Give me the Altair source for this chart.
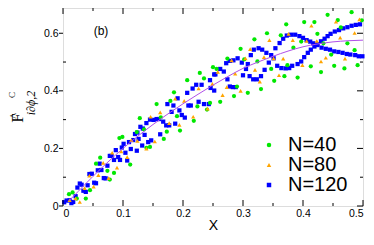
import altair as alt
import pandas as pd

# ---- data ----
series_names = ["N=40", "N=80", "N=120"]

green_pts = [(0.010,0.041),(0.016,0.047),(0.023,0.026),(0.038,0.026),(0.045,0.055),(0.055,0.147),
             (0.062,0.168),(0.074,0.122),(0.078,0.092),(0.085,0.115),(0.094,0.236),(0.099,0.240),
             (0.112,0.144),(0.123,0.257),(0.128,0.305),(0.135,0.266),(0.139,0.202),(0.145,0.205),
             (0.156,0.354),(0.163,0.308),(0.168,0.233),(0.173,0.258),(0.179,0.365),(0.185,0.395),
             (0.190,0.312),(0.195,0.262),(0.207,0.437),(0.218,0.296),(0.224,0.346),(0.228,0.462),
             (0.235,0.443),(0.240,0.335),(0.245,0.358),(0.250,0.482),(0.256,0.476),(0.262,0.362),
             (0.274,0.512),(0.285,0.382),(0.290,0.415),(0.296,0.546),(0.302,0.509),(0.308,0.393),
             (0.319,0.579),(0.324,0.502),(0.330,0.406),(0.340,0.600),(0.347,0.476),(0.352,0.435),
             (0.363,0.593),(0.369,0.451),(0.372,0.631),(0.374,0.489),(0.384,0.550),(0.391,0.446),
             (0.397,0.571),(0.402,0.639),(0.413,0.485),(0.419,0.639),(0.424,0.598),(0.430,0.465),
             (0.434,0.565),(0.441,0.664),(0.447,0.526),(0.452,0.487),(0.458,0.646),(0.463,0.620),
             (0.469,0.478),(0.474,0.565),(0.481,0.673),(0.486,0.541),(0.491,0.489),(0.498,0.645)]

orange_pts = [(0.011,0.020),(0.021,0.026),(0.028,0.014),(0.036,0.062),(0.044,0.105),(0.051,0.067),
              (0.059,0.107),(0.067,0.150),(0.076,0.097),(0.082,0.185),(0.090,0.133),(0.097,0.190),
              (0.107,0.170),(0.114,0.229),(0.124,0.226),(0.139,0.199),(0.146,0.310),(0.153,0.224),
              (0.162,0.325),(0.177,0.288),(0.187,0.373),(0.194,0.282),(0.202,0.365),(0.217,0.310),
              (0.226,0.408),(0.241,0.338),(0.249,0.424),(0.258,0.466),(0.266,0.385),(0.273,0.413),
              (0.281,0.506),(0.287,0.460),(0.296,0.400),(0.304,0.513),(0.312,0.545),(0.320,0.473),
              (0.328,0.432),(0.335,0.517),(0.344,0.576),(0.351,0.513),(0.360,0.454),(0.367,0.512),
              (0.376,0.598),(0.383,0.576),(0.399,0.489),(0.406,0.573),(0.414,0.626),(0.423,0.573),
              (0.430,0.502),(0.438,0.515),(0.455,0.640),(0.462,0.585),(0.470,0.512),(0.486,0.601),
              (0.494,0.648)]

blue_pts = [(0.002,0.013),(0.006,0.019),(0.011,0.020),(0.014,0.010),(0.017,0.014),(0.021,0.034),
            (0.024,0.064),(0.028,0.078),(0.031,0.074),(0.034,0.053),(0.038,0.049),(0.041,0.072),
            (0.044,0.111),(0.048,0.112),(0.052,0.081),(0.055,0.079),(0.058,0.124),(0.061,0.147),
            (0.064,0.125),(0.068,0.097),(0.071,0.096),(0.074,0.140),(0.078,0.174),(0.081,0.174),
            (0.085,0.160),(0.088,0.194),(0.092,0.170),(0.095,0.160),(0.098,0.203),(0.101,0.216),
            (0.104,0.185),(0.107,0.158),(0.110,0.222),(0.113,0.198),(0.117,0.229),(0.120,0.250),
            (0.123,0.192),(0.124,0.255),(0.126,0.233),(0.129,0.275),(0.132,0.210),(0.133,0.269),
            (0.136,0.247),(0.139,0.288),(0.142,0.222),(0.145,0.300),(0.147,0.228),(0.151,0.299),
            (0.156,0.302),(0.160,0.302),(0.162,0.249),(0.167,0.293),(0.172,0.280),(0.174,0.354),
            (0.177,0.280),(0.181,0.327),(0.184,0.349),(0.187,0.286),(0.191,0.374),(0.194,0.332),
            (0.198,0.316),(0.203,0.307),(0.207,0.393),(0.209,0.349),(0.213,0.349),(0.216,0.408),
            (0.222,0.421),(0.226,0.362),(0.231,0.421),(0.235,0.354),(0.243,0.354),(0.245,0.437),
            (0.246,0.410),(0.252,0.457),(0.252,0.401),(0.254,0.457),(0.262,0.476),(0.268,0.467),
            (0.272,0.496),(0.274,0.440),(0.278,0.415),(0.278,0.504),(0.283,0.413),(0.284,0.506),
            (0.288,0.413),(0.291,0.513),(0.298,0.498),(0.300,0.454),(0.305,0.476),(0.308,0.493),
            (0.311,0.451),(0.313,0.524),(0.317,0.440),(0.318,0.543),(0.323,0.440),(0.326,0.548),
            (0.330,0.451),(0.332,0.543),(0.336,0.473),(0.339,0.532),(0.343,0.498),(0.347,0.524),
            (0.351,0.513),(0.354,0.548),(0.357,0.487),(0.361,0.566),(0.364,0.479),(0.367,0.581),
            (0.371,0.478),(0.373,0.592),(0.377,0.479),(0.380,0.595),(0.382,0.487),(0.387,0.595),
            (0.391,0.493),(0.394,0.590),(0.397,0.502),(0.400,0.584),(0.402,0.517),(0.406,0.576),
            (0.408,0.532),(0.412,0.571),(0.413,0.543),(0.417,0.565),(0.419,0.554),(0.424,0.559),
            (0.424,0.562),(0.430,0.572),(0.431,0.550),(0.436,0.581),(0.438,0.546),(0.441,0.590),
            (0.445,0.543),(0.446,0.598),(0.452,0.537),(0.453,0.606),(0.459,0.535),(0.460,0.611),
            (0.466,0.532),(0.467,0.617),(0.473,0.528),(0.474,0.621),(0.479,0.526),(0.481,0.626),
            (0.487,0.524),(0.488,0.629),(0.493,0.520),(0.495,0.631),(0.499,0.520)]

fit_x = [0.010,0.025,0.050,0.075,0.100,0.125,0.150,0.175,0.200,0.225,0.250,
         0.275,0.300,0.325,0.350,0.375,0.400,0.425,0.450,0.475,0.500]
fit_y = [0.018,0.050,0.103,0.153,0.200,0.243,0.283,0.320,0.355,0.388,0.420,
         0.450,0.478,0.500,0.520,0.538,0.553,0.563,0.570,0.574,0.576]

x_major = [0, 0.1, 0.2, 0.3, 0.4, 0.5]
x_minor = [0.05, 0.15, 0.25, 0.35, 0.45]
y_major = [0, 0.2, 0.4, 0.6]
y_minor = [0.1, 0.3, 0.5]

# ---- build tables ----
rows = []
for name, pts in zip(series_names, [green_pts, orange_pts, blue_pts]):
    for px, py in pts:
        rows.append({"x": px, "y": py, "series": name})
pts_df = pd.DataFrame(rows)
fit_df = pd.DataFrame({"x": fit_x, "y": fit_y})

W, H = 300, 198
xs = alt.Scale(domain=[0, 0.5], nice=False, zero=False)
ys = alt.Scale(domain=[0, 0.6877], nice=False, zero=False)
lab = "datum.value == 0 ? '0' : format(datum.value, '.1f')"
FONT = "Liberation Sans"

points = alt.Chart(pts_df).mark_point(filled=True, opacity=1, size=18).encode(
    x=alt.X("x:Q", scale=xs,
            axis=alt.Axis(values=x_major, labelExpr=lab, ticks=False, domain=False, grid=False,
                          labelPadding=2, labelFontSize=10.5, labelFont=FONT, labelColor="black",
                          title="X", titleFont=FONT, titleFontSize=14, titleFontWeight="normal",
                          titleColor="black", titleBaseline="alphabetic", titleY=23)),
    y=alt.Y("y:Q", scale=ys,
            axis=alt.Axis(values=y_major, labelExpr=lab, ticks=False, domain=False, grid=False,
                          labelPadding=5, labelFontSize=10.5, labelFont=FONT, labelColor="black",
                          title=None)),
    color=alt.Color("series:N", scale=alt.Scale(domain=series_names,
                                                 range=["#00e800", "#ffa500", "#0000ff"]),
                    legend=alt.Legend(orient="none", legendX=196, legendY=127, title=None,
                                      labelFontSize=20, labelFont=FONT, labelColor="black",
                                      symbolSize=20, symbolStrokeWidth=0, labelOffset=9,
                                      rowPadding=-2, padding=0)),
    shape=alt.Shape("series:N", scale=alt.Scale(domain=series_names,
                                                 range=["circle", "triangle-up", "square"])),
    order=alt.Order("series:N"),
)

fit = alt.Chart(fit_df).mark_line(color="#b050e8", strokeWidth=1, interpolate="monotone").encode(
    x=alt.X("x:Q", scale=xs), y=alt.Y("y:Q", scale=ys))

def ticks(values, orient, length):
    d = pd.DataFrame({"v": values})
    c = alt.Chart(d).mark_rule(color="black", strokeWidth=1)
    if orient == "bottom":
        return c.encode(x=alt.X("v:Q", scale=xs), y=alt.value(H), y2=alt.value(H - length))
    if orient == "top":
        return c.encode(x=alt.X("v:Q", scale=xs), y=alt.value(0), y2=alt.value(length))
    if orient == "left":
        return c.encode(y=alt.Y("v:Q", scale=ys), x=alt.value(0), x2=alt.value(length))
    return c.encode(y=alt.Y("v:Q", scale=ys), x=alt.value(W), x2=alt.value(W - length))

tick_layers = [
    ticks(x_major, "bottom", 6), ticks(x_minor, "bottom", 3),
    ticks(x_major, "top", 6), ticks(x_minor, "top", 3),
    ticks(y_major, "left", -4), ticks(y_minor, "left", 3),
    ticks(y_major, "right", 6), ticks(y_minor, "right", 3),
]

one = pd.DataFrame({"a": [0]})
def label(text, x, y, size, font="Liberation Serif", angle=0, style="normal"):
    return alt.Chart(one).mark_text(text=text, font=font, fontSize=size, angle=angle,
                                    fontStyle=style, align="center", baseline="middle",
                                    color="black").encode(x=alt.value(x), y=alt.value(y))

panel = label("(b)", 38, 23, 12, font=FONT)
ytitle = [
    label("F", -45, 110, 17, angle=270),
    label("^", -49, 108, 12, angle=270),
    label("C", -51, 87, 9, angle=270),
    label("i\u2202\u03d5,2", -32, 95, 12, angle=270, style="italic"),
]

chart = alt.layer(points, fit, *tick_layers, panel, *ytitle).properties(
    width=W, height=H,
    autosize=alt.AutoSizeParams(type="none"),
    padding={"left": 55, "top": 0, "right": 3, "bottom": 26},
).configure_view(stroke="black", strokeWidth=1).configure(background="white")

chart.save("out.html", embed_options={"renderer": "svg", "actions": False})
